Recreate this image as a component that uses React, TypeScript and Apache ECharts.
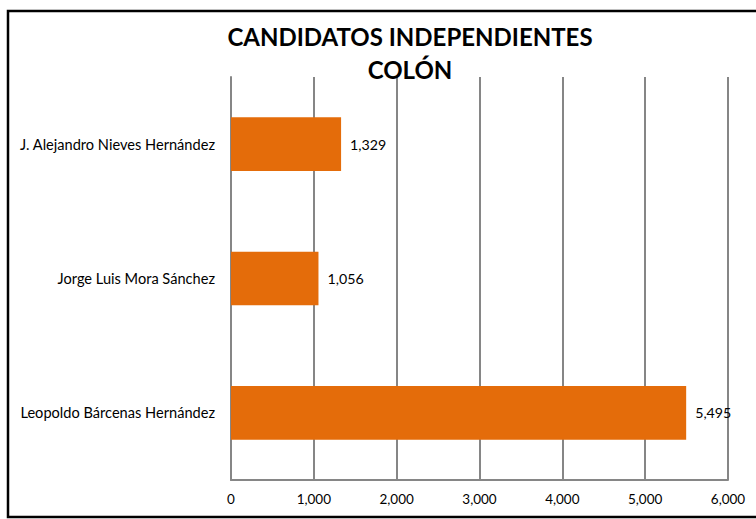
import React, { useEffect, useRef } from "react";
import * as echarts from "echarts";

const titleLines = ["CANDIDATOS INDEPENDIENTES", "COLÓN"];
const categories = [
  "J. Alejandro Nieves Hernández",
  "Jorge Luis Mora Sánchez",
  "Leopoldo Bárcenas Hernández",
];
const votes = [1329, 1056, 5495];
const axisMin = 0;
const axisMax = 6000;
const axisStep = 1000;

const fmt = (v: number) => v.toLocaleString("en-US");

export default function App() {
  const ref = useRef<HTMLDivElement>(null);
  useEffect(() => {
    if (!ref.current) return;
    const chart = echarts.init(ref.current, null, { renderer: "svg" });
    const font = "Lato, sans-serif";
    chart.setOption({
      animation: false,
      backgroundColor: "#ffffff",
      title: {
        text: titleLines.join("\n"),
        left: 405,
        textAlign: "center",
        top: 15,
        textStyle: {
          fontFamily: "Lato, sans-serif",
          fontWeight: "bold",
          fontSize: 24,
          lineHeight: 33,
          color: "#000",
        },
      },
      graphic: [
        {
          type: "rect",
          shape: { x: 8, y: 11, width: 760, height: 506 },
          style: { fill: "none", stroke: "#000", lineWidth: 2.5 },
          silent: true,
        },
      ],
      grid: { left: 231, right: 28, top: 77, bottom: 39 },
      xAxis: {
        type: "value",
        min: axisMin,
        max: axisMax,
        interval: axisStep,
        axisLine: { show: true, lineStyle: { color: "#868686", width: 2 } },
        axisTick: { show: false },
        splitLine: { show: true, lineStyle: { color: "#868686", width: 2 } },
        axisLabel: {
          formatter: (v: number) => fmt(v),
          fontFamily: font,
          fontSize: 13.5,
          color: "#000",
          margin: 12,
        },
      },
      yAxis: {
        type: "category",
        data: categories,
        inverse: true,
        axisLine: { show: true, lineStyle: { color: "#868686", width: 2 } },
        axisTick: { show: false },
        splitLine: { show: false },
        axisLabel: {
          fontFamily: font,
          fontSize: 14.6,
          color: "#000",
          margin: 16,
        },
      },
      series: [
        {
          type: "bar",
          data: votes,
          barWidth: "40%",
          itemStyle: { color: "#E46C0A" },
          label: {
            show: true,
            position: "right",
            distance: 9,
            formatter: (p: any) => fmt(p.value),
            fontFamily: font,
            fontSize: 14.2,
            color: "#000",
          },
        },
      ],
    });
    return () => chart.dispose();
  }, []);
  return (
    <div
      ref={ref}
      style={{ position: "fixed", left: 0, top: 0, width: 756, height: 519 }}
    />
  );
}
